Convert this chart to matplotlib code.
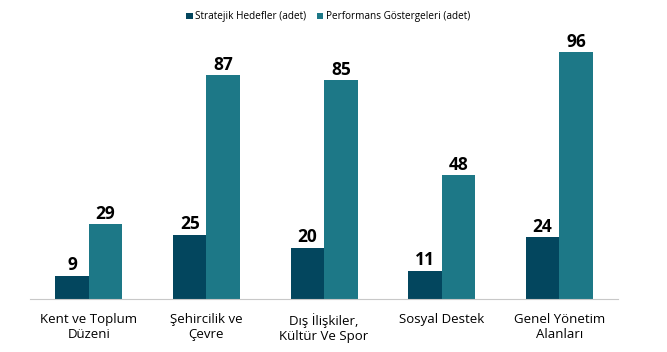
import numpy as np
import matplotlib.pyplot as plt

categories = ['Kent ve Toplum\nDüzeni', 'Şehircilik ve\nÇevre', 'Dış İlişkiler,\nKültür Ve Spor',
              'Sosyal Destek', 'Genel Yönetim\nAlanları']
hedefler = [9, 25, 20, 11, 24]
gostergeler = [29, 87, 85, 48, 96]
series_names = ['Stratejik Hedefler (adet)', 'Performans Göstergeleri (adet)']

dark = '#03465e'
teal = '#1d7887'

plt.rcParams['font.family'] = ['Open Sans', 'DejaVu Sans']

fig = plt.figure(figsize=(6.67, 3.52), dpi=100)
ax = fig.add_axes([0.045, 0.1506, 0.8816, 0.731])

x = np.arange(len(categories))
w = 0.285
b1 = ax.bar(x - w/2, hedefler, w, color=dark, label=series_names[0])
b2 = ax.bar(x + w/2, gostergeler, w, color=teal, label=series_names[1])

for bars in (b1, b2):
    for rect in bars:
        h = rect.get_height()
        ax.annotate(f'{h:g}', (rect.get_x() + rect.get_width()/2, h),
                    xytext=(0, 1), textcoords='offset points',
                    ha='center', va='bottom', fontsize=12.5, fontweight='bold')

ax.set_xlim(-0.5, len(categories) - 0.5)
ax.set_ylim(0, 100)
ax.set_xticks(x)
ax.set_xticklabels(categories, fontsize=9.5, linespacing=1.25)
ax.tick_params(axis='x', length=0, pad=10)
ax.set_yticks([])
for side in ('top', 'right', 'left'):
    ax.spines[side].set_visible(False)
ax.spines['bottom'].set_color('#c8c8c8')

fig.legend(handles=[b1, b2], labels=series_names, loc='center', bbox_to_anchor=(0.492, 0.952),
           ncol=2, frameon=False, fontsize=7.2, handlelength=0.65, handleheight=0.65,
           handletextpad=0.25, columnspacing=1.0, borderpad=0)

fig.savefig('out.png', dpi=100)
